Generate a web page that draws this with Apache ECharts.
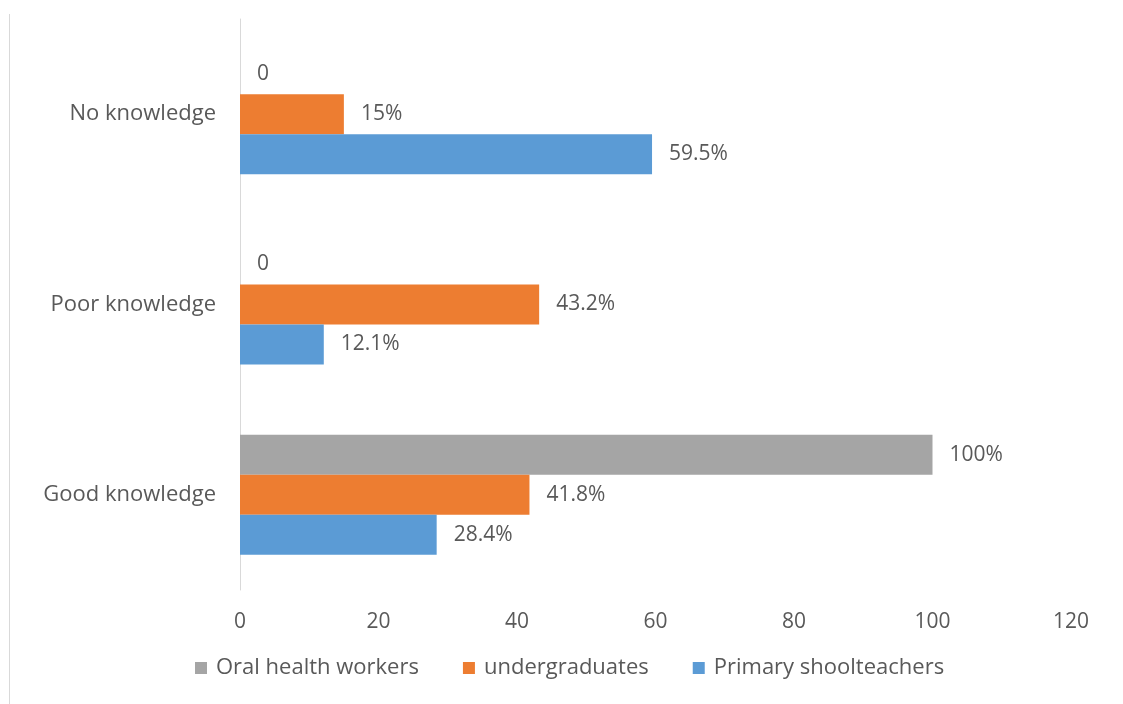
<!DOCTYPE html>
<html>
<head>
<meta charset="utf-8">
<script src="https://cdn.jsdelivr.net/npm/echarts@6/dist/echarts.min.js"></script>
<style>html,body{margin:0;padding:0;background:#fff}#c{width:1123px;height:704px}</style>
</head>
<body>
<div id="c"></div>
<script>
const categories = ['Good knowledge', 'Poor knowledge', 'No knowledge'];
const primaryTeachers = [28.4, 12.1, 59.5];
const undergraduates = [41.8, 43.2, 15];
const oralHealthWorkers = [100, 0, 0];
const xTicks = { min: 0, max: 120, interval: 20 };
const legendOrder = ['Oral health workers', 'undergraduates', 'Primary shoolteachers'];

const FONT = '"Open Sans", "Noto Sans", sans-serif';
const TXT = '#595959';
const FS = 22;
const lbl = {
  show: true, position: 'right', distance: 17,
  color: TXT, fontSize: FS - 1, fontFamily: FONT,
  formatter: p => p.value === 0 ? '0' : p.value + '%'
};
const chart = echarts.init(document.getElementById('c'));
chart.setOption({
  animation: false,
  backgroundColor: '#fff',
  grid: { left: 240, right: 52, top: 19, bottom: 114, containLabel: false },
  legend: {
    data: legendOrder, top: 652, left: 190,
    itemWidth: 12, itemHeight: 12, itemGap: 44, icon: 'rect',
    textStyle: { color: TXT, fontSize: FS, fontFamily: FONT, padding: [0, 0, 0, 4] }
  },
  xAxis: {
    type: 'value', min: xTicks.min, max: xTicks.max, interval: xTicks.interval,
    axisLine: { show: false }, axisTick: { show: false }, splitLine: { show: false },
    axisLabel: { color: TXT, fontSize: FS - 1, fontFamily: FONT, margin: 22 }
  },
  yAxis: {
    type: 'category', data: categories,
    axisLine: { show: true, lineStyle: { color: '#D9D9D9', width: 1 } },
    axisTick: { show: false }, splitLine: { show: false },
    axisLabel: { color: TXT, fontSize: FS, fontFamily: FONT, margin: 24 }
  },
  graphic: [{
    type: 'line', shape: { x1: 9.5, y1: 14, x2: 9.5, y2: 704 },
    style: { stroke: '#D9D9D9', lineWidth: 1 }
  }],
  series: [
    { name: 'Oral health workers', type: 'bar', data: oralHealthWorkers, barWidth: 40, barGap: '0%',
      itemStyle: { color: '#A5A5A5' }, label: lbl },
    { name: 'undergraduates', type: 'bar', data: undergraduates, barWidth: 40, barGap: '0%',
      itemStyle: { color: '#ED7D31' }, label: lbl },
    { name: 'Primary shoolteachers', type: 'bar', data: primaryTeachers, barWidth: 40, barGap: '0%',
      itemStyle: { color: '#5B9BD5' }, label: lbl }
  ]
});
</script>
</body>
</html>
